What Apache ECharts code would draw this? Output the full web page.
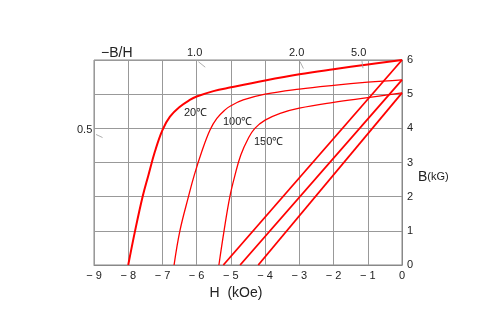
<!DOCTYPE html>
<html><head><meta charset="utf-8">
<script src="https://cdn.jsdelivr.net/npm/echarts@6/dist/echarts.min.js"></script>
<style>html,body{margin:0;padding:0;background:#fff}#c{width:501px;height:329px}</style>
</head><body><div id="c"></div>
<script>
// H (kOe) ticks and B (kG) ticks
const xTicks = [-9,-8,-7,-6,-5,-4,-3,-2,-1,0];
const yTicks = [0,1,2,3,4,5,6];
// intrinsic curves [H, B]
const curve20 = [[-8.0,0],[-7.8,1.0],[-7.58,2.0],[-7.41,2.63],[-7.22,3.32],[-7.0,3.95],[-6.78,4.34],[-6.49,4.63],[-6.2,4.83],[-6.0,4.93],[-5.51,5.09],[-5.0,5.2],[-4.0,5.4],[-3,5.58],[-2,5.73],[-1,5.87],[0,6.0]];
const curve100 = [[-6.66,0],[-6.49,1],[-6.24,2],[-6.07,2.63],[-5.85,3.32],[-5.61,3.95],[-5.41,4.29],[-5.17,4.54],[-5.0,4.66],[-4.64,4.83],[-4.0,5.0],[-3,5.15],[-2,5.26],[-1,5.35],[0,5.42]];
const curve150 = [[-5.35,0],[-5.2,1],[-5.03,2],[-4.88,2.63],[-4.71,3.22],[-4.49,3.71],[-4.3,4.0],[-4.0,4.24],[-3.56,4.44],[-3,4.59],[-2,4.76],[-1,4.9],[0,5.04]];
// normal (B-H) lines
const line20 = [[-5.22,0],[0,6.0]];
const line100 = [[-4.73,0],[0,5.42]];
const line150 = [[-4.2,0],[0,5.04]];
// permeance ticks (-B/H)
const permTicks = [
  [[-5.95,5.95],[-5.75,5.79]],
  [[-2.98,5.95],[-2.88,5.75]],
  [[-1.17,5.97],[-1.14,5.76]],
  [[-8.94,3.82],[-8.75,3.73]]
];
const permLabels = ['1.0','2.0','5.0','0.5'];
const tempLabels = ['20℃','100℃','150℃'];

const chart = echarts.init(document.getElementById('c'), null, {renderer:'canvas'});
const FONT = 'Liberation Sans, Arial, sans-serif';
const series = [];
const red = '#ff0000';
[[curve20,2],[curve100,1.3],[curve150,1.3]].forEach(([d,w])=>{
  series.push({type:'line',data:d,smooth:0.4,showSymbol:false,lineStyle:{color:red,width:w},silent:true});
});
[line20,line100,line150].forEach(d=>{
  series.push({type:'line',data:d,showSymbol:false,lineStyle:{color:red,width:1.8},silent:true});
});
permTicks.forEach(d=>{
  series.push({type:'line',data:d,showSymbol:false,lineStyle:{color:'#999',width:0.8},silent:true});
});
const txt = (t,x,y,size) => ({type:'text',left:x,top:y,style:{text:t,font:`${size}px ${FONT}`,fill:'#222'}});
chart.setOption({
  animation:false,
  grid:{left:94,right:99,top:60,bottom:64,show:true,borderColor:'#888',borderWidth:1},
  xAxis:{type:'value',min:xTicks[0],max:xTicks[xTicks.length-1],interval:1,
    axisLine:{show:true,lineStyle:{color:'#888'}},axisTick:{show:false},
    axisLabel:{formatter:v=>String(v).replace('-','\u2212 '),fontFamily:FONT,fontSize:11,color:'#222',margin:5},
    splitLine:{show:true,lineStyle:{color:'#999',width:1}},
    name:'H  (kOe)',nameLocation:'middle',nameGap:15,nameTextStyle:{fontFamily:FONT,fontSize:14,color:'#222',padding:[0,0,0,-24]}},
  yAxis:{type:'value',position:'right',min:yTicks[0],max:yTicks[yTicks.length-1],interval:1,
    axisLine:{show:true,lineStyle:{color:'#888'}},axisTick:{show:false},
    axisLabel:{fontFamily:FONT,fontSize:11,color:'#222',margin:5},
    splitLine:{show:true,lineStyle:{color:'#999',width:1}}},
  series:series,
  graphic:[
    txt('\u2212B/H',101,46,14),
    txt(permLabels[0],187,47,11),
    txt(permLabels[1],289,47,11),
    txt(permLabels[2],351,47,11),
    txt(permLabels[3],77,124,11),
    txt(tempLabels[0],184,107,11),
    txt(tempLabels[1],223,116,11),
    txt(tempLabels[2],254,136,11),
    {type:'text',left:418,top:170,style:{rich:{a:{fontSize:14,fontFamily:FONT,fill:'#222'},b:{fontSize:11,fontFamily:FONT,fill:'#222'}},text:'{a|B}{b|(kG)}',fill:'#222'}}
  ]
});
</script></body></html>
